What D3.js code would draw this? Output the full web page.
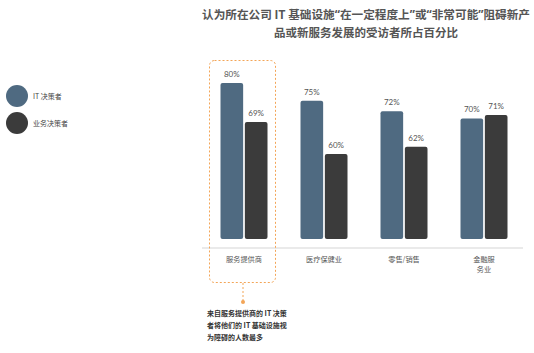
<!DOCTYPE html>
<html>
<head>
<meta charset="utf-8">
<script src="https://cdn.jsdelivr.net/npm/d3@7"></script>
<style>
  body { margin: 0; background: #fff; }
  svg { font-family: "Noto Sans CJK SC", "Noto Sans", sans-serif; }
</style>
</head>
<body>
<div id="chart"></div>
<script>
// data
const categories = ["服务提供商", "医疗保健业", "零售/销售", "金融服务业"];
const categoryLines = [["服务提供商"], ["医疗保健业"], ["零售/销售"], ["金融服", "务业"]];
const seriesNames = ["IT 决策者", "业务决策者"];
const itValues = [80, 75, 72, 70];
const bizValues = [69, 60, 62, 71];
const titleLines = ["认为所在公司 IT 基础设施“在一定程度上”或“非常可能”阻碍新产", "品或新服务发展的受访者所占百分比"];
const noteLines = ["来自服务提供商的 IT 决策", "者将他们的 IT 基础设施视", "为障碍的人数最多"];

const colors = ["#4f6a81", "#3b3b3b"];
const orange = "#f3a557";

const width = 534, height = 353;
const svg = d3.select("#chart").append("svg")
    .attr("width", width)
    .attr("height", height);

// scales
const x0 = d3.scaleBand()
    .domain(categories)
    .range([204, 524]);

const x1 = d3.scaleBand()
    .domain([0, 1])
    .range([0, 47])
    .paddingInner(0.07);

const y = d3.scaleLinear()
    .domain([36, 80])
    .range([239, 83]);

// title (quote marks set in a latin font so they stay narrow)
const title = svg.append("g");
titleLines.forEach((line, i) => {
    const t = title.append("text")
        .attr("x", 366)
        .attr("y", 19 + i * 18)
        .attr("text-anchor", "middle")
        .attr("fill", "#555")
        .style("font-size", "11.5px")
        .style("font-weight", "bold");
    line.split(/([“”])/).filter(s => s.length).forEach(part => {
        t.append("tspan")
            .style("font-family", /[“”]/.test(part) ? "'Noto Sans', sans-serif" : null)
            .text(part);
    });
    if (i === 0) t.attr("textLength", 328).attr("lengthAdjust", "spacingAndGlyphs");
});

// legend
const legend = svg.append("g");
seriesNames.forEach((name, i) => {
    legend.append("circle")
        .attr("cx", 17)
        .attr("cy", 96 + i * 27)
        .attr("r", 11)
        .attr("fill", colors[i]);
    legend.append("text")
        .attr("x", 33)
        .attr("y", 96 + i * 27 + 3)
        .attr("fill", "#444")
        .style("font-size", "7px")
        .text(name);
});

// axis line
svg.append("line")
    .attr("x1", 202).attr("x2", 523)
    .attr("y1", 248).attr("y2", 248)
    .attr("stroke", "#d5d5d5")
    .attr("stroke-width", 1);

// bars
const groups = svg.selectAll("g.group")
    .data(categories)
    .enter().append("g")
    .attr("class", "group")
    .attr("transform", d => `translate(${x0(d) + (x0.bandwidth() - 47) / 2},0)`);

groups.each(function(c, ci) {
    const g = d3.select(this);
    const vals = [itValues[ci], bizValues[ci]];
    vals.forEach((v, si) => {
        g.append("rect")
            .attr("x", x1(si))
            .attr("y", y(v))
            .attr("width", x1.bandwidth())
            .attr("height", y.range()[0] - y(v))
            .attr("rx", 2)
            .attr("fill", colors[si]);
        g.append("text")
            .attr("x", x1(si) + x1.bandwidth() / 2)
            .attr("y", y(v) - 6)
            .attr("text-anchor", "middle")
            .attr("fill", "#555")
            .style("font-family", "Lato, 'Noto Sans', sans-serif")
            .style("font-size", "8px")
            .text(v + "%");
    });
    g.append("g").selectAll("text")
        .data(categoryLines[ci])
        .enter().append("text")
        .attr("x", 23.5)
        .attr("y", (d, i) => 262 + i * 10)
        .attr("text-anchor", "middle")
        .attr("fill", "#555")
        .style("font-size", "7.2px")
        .text(d => d);
});

// highlight box around first group
svg.append("rect")
    .attr("x", 209.5).attr("y", 60.5)
    .attr("width", 66).attr("height", 222)
    .attr("rx", 5)
    .attr("fill", "none")
    .attr("stroke", orange)
    .attr("stroke-width", 1)
    .attr("stroke-dasharray", "2,2");

svg.append("line")
    .attr("x1", 243).attr("x2", 243)
    .attr("y1", 283).attr("y2", 301)
    .attr("stroke", orange)
    .attr("stroke-dasharray", "2,2");

svg.append("circle")
    .attr("cx", 243).attr("cy", 302)
    .attr("r", 2)
    .attr("fill", orange);

// note
svg.append("g").selectAll("text")
    .data(noteLines)
    .enter().append("text")
    .attr("x", 207)
    .attr("y", (d, i) => 316 + i * 12)
    .attr("fill", "#333")
    .style("font-size", "7px")
    .style("font-weight", "bold")
    .text(d => d);
</script>
</body>
</html>
